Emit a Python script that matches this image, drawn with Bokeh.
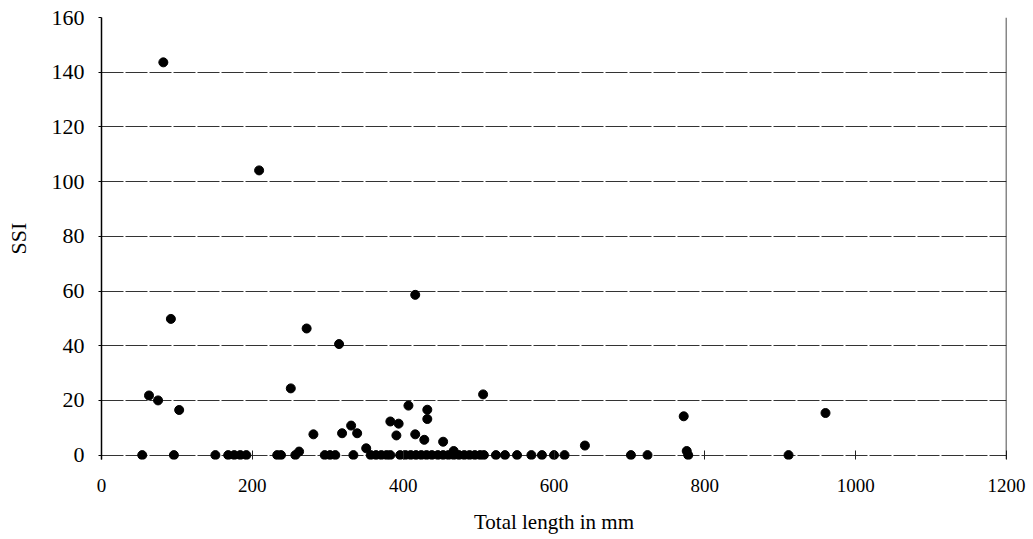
from bokeh.plotting import figure
from bokeh.models import Range1d, FixedTicker, Span
from bokeh.embed import file_html
from bokeh.resources import INLINE

# Total length (mm) and SSI
length_mm = [82, 209, 92, 416, 272, 315, 251, 506, 63, 75, 103, 407, 432, 432,
             383, 394, 331, 281, 319, 339, 391, 416, 428, 453, 351, 772, 960,
             641, 776, 262, 467,
             54, 96, 151, 168, 176, 184, 192, 233, 238, 257, 296, 303, 310,
             334, 357, 364, 371, 378, 383, 396, 403, 410, 417, 424, 431, 438,
             446, 453, 460, 467, 474, 481, 488, 495, 502, 507, 523, 535, 551,
             570, 584, 600, 614, 702, 724, 778, 911]
ssi = [143.6, 104.1, 49.8, 58.6, 46.3, 40.6, 24.4, 22.2, 21.8, 20.0, 16.5, 18.1,
       16.6, 13.2, 12.3, 11.5, 10.8, 7.6, 8.0, 8.0, 7.2, 7.6, 5.6, 4.9, 2.5,
       14.2, 15.4, 3.5, 1.5, 1.3, 1.5,
       0, 0, 0, 0, 0, 0, 0, 0, 0, 0, 0, 0, 0,
       0, 0, 0, 0, 0, 0, 0, 0, 0, 0, 0, 0, 0,
       0, 0, 0, 0, 0, 0, 0, 0, 0, 0, 0, 0, 0,
       0, 0, 0, 0, 0, 0, 0, 0]

x_ticks = [0, 200, 400, 600, 800, 1000, 1200]
y_ticks = [0, 20, 40, 60, 80, 100, 120, 140, 160]

FONT = "Liberation Serif"

# small margin below 0 so the points on the zero line are not clipped
p = figure(width=1033, height=539, output_backend="svg", toolbar_location=None,
           x_range=Range1d(x_ticks[0], x_ticks[-1]),
           y_range=Range1d(-1.6, y_ticks[-1]),
           min_border_left=101, min_border_right=27, min_border_top=17,
           min_border_bottom=80)
p.background_fill_color = "white"
p.border_fill_color = "white"
p.outline_line_color = None

# right border of the plot area
p.add_layout(Span(location=x_ticks[-1], dimension="height",
                  line_color="#111111", line_width=1.5))

p.scatter(length_mm, ssi, size=9, color="black")

# grid
p.xgrid.grid_line_color = None
p.ygrid.ticker = FixedTicker(ticks=y_ticks)
p.ygrid.grid_line_color = "#333333"
p.ygrid.grid_line_width = 1
p.ygrid.grid_line_dash = "22 2"

# x axis
p.xaxis.ticker = FixedTicker(ticks=x_ticks)
p.xaxis.axis_label = "Total length in mm"
p.xaxis.axis_label_text_font = FONT
p.xaxis.axis_label_text_font_style = "normal"
p.xaxis.axis_label_text_font_size = "21px"
p.xaxis.axis_label_standoff = 15
p.xaxis.major_label_text_font = FONT
p.xaxis.major_label_text_font_size = "19px"
p.xaxis.major_label_standoff = 19
p.xaxis.major_tick_in = 9
p.xaxis.major_tick_out = 0
p.xaxis.major_tick_line_color = "#222222"
p.xaxis.minor_tick_line_color = None
p.xaxis.axis_line_color = None
p.xaxis.major_label_text_color = "black"
p.xaxis.axis_label_text_color = "black"

# y axis
p.yaxis.ticker = FixedTicker(ticks=y_ticks)
p.yaxis.axis_label = "SSI"
p.yaxis.axis_label_text_font = FONT
p.yaxis.axis_label_text_font_style = "normal"
p.yaxis.axis_label_text_font_size = "22px"
p.yaxis.axis_label_standoff = 18
p.yaxis.major_label_text_font = FONT
p.yaxis.major_label_text_font_size = "22px"
p.yaxis.major_label_standoff = 14
p.yaxis.major_tick_in = 0
p.yaxis.major_tick_out = 3
p.yaxis.minor_tick_line_color = None
p.yaxis.axis_line_color = "black"
p.yaxis.axis_line_width = 1.5
p.yaxis.major_label_text_color = "black"
p.yaxis.axis_label_text_color = "black"

open("out.html", "w").write(file_html(p, INLINE))
